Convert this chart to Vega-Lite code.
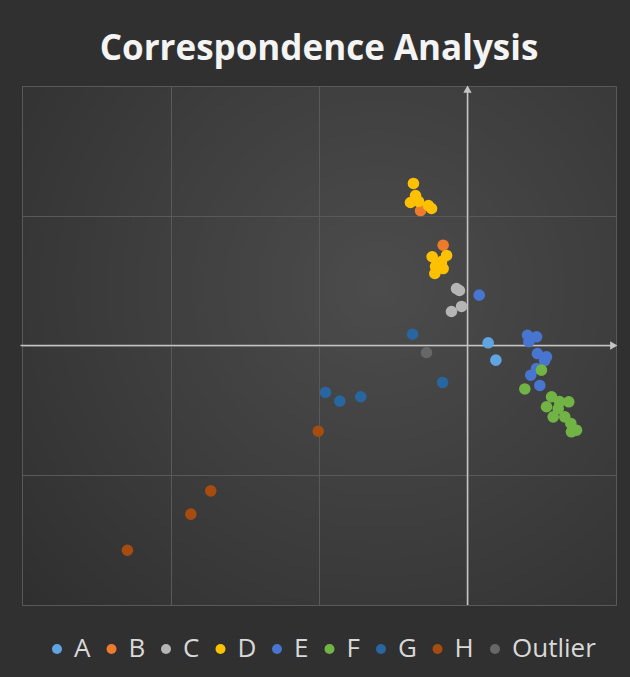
{
  "$schema": "https://vega.github.io/schema/vega-lite/v6.json",
  "width": 594,
  "height": 519,
  "autosize": {"type": "none"},
  "padding": {"left": 22, "top": 86, "right": 14, "bottom": 72},
  "background": "#303030",
  "title": {
    "text": "Correspondence Analysis",
    "font": "Open Sans",
    "fontSize": 35,
    "fontWeight": "bold",
    "color": "#f4f4f4",
    "anchor": "middle",
    "offset": 19
  },
  "config": {
    "view": {
      "stroke": "#585858",
      "strokeWidth": 1,
      "fill": {
        "gradient": "radial",
        "x1": 0.6, "y1": 0.4, "x2": 0.6, "y2": 0.4, "r1": 0, "r2": 0.8,
        "stops": [
          {"offset": 0, "color": "#4c4c4c"},
          {"offset": 1, "color": "#2f2f2f"}
        ]
      }
    },
    "axis": {
      "grid": true,
      "gridColor": "#595959",
      "gridWidth": 1,
      "labels": false,
      "ticks": false,
      "domain": false,
      "tickCount": 4
    }
  },
  "datasets": {
    "points": [
      {"group": "A", "x": 0.139, "y": 0.021},
      {"group": "A", "x": 0.191, "y": -0.113},
      {"group": "B", "x": -0.316, "y": 1.040},
      {"group": "B", "x": -0.164, "y": 0.773},
      {"group": "C", "x": -0.074, "y": 0.439},
      {"group": "C", "x": -0.054, "y": 0.424},
      {"group": "C", "x": -0.040, "y": 0.301},
      {"group": "C", "x": -0.108, "y": 0.262},
      {"group": "D", "x": -0.364, "y": 1.249},
      {"group": "D", "x": -0.350, "y": 1.156},
      {"group": "D", "x": -0.384, "y": 1.102},
      {"group": "D", "x": -0.330, "y": 1.110},
      {"group": "D", "x": -0.263, "y": 1.079},
      {"group": "D", "x": -0.242, "y": 1.056},
      {"group": "D", "x": -0.141, "y": 0.694},
      {"group": "D", "x": -0.238, "y": 0.684},
      {"group": "D", "x": -0.175, "y": 0.647},
      {"group": "D", "x": -0.215, "y": 0.609},
      {"group": "D", "x": -0.164, "y": 0.593},
      {"group": "D", "x": -0.220, "y": 0.555},
      {"group": "E", "x": 0.079, "y": 0.388},
      {"group": "E", "x": 0.404, "y": 0.079},
      {"group": "E", "x": 0.465, "y": 0.067},
      {"group": "E", "x": 0.413, "y": 0.029},
      {"group": "E", "x": 0.471, "y": -0.062},
      {"group": "E", "x": 0.532, "y": -0.087},
      {"group": "E", "x": 0.519, "y": -0.116},
      {"group": "E", "x": 0.465, "y": -0.177},
      {"group": "E", "x": 0.426, "y": -0.229},
      {"group": "E", "x": 0.487, "y": -0.308},
      {"group": "F", "x": 0.498, "y": -0.190},
      {"group": "F", "x": 0.386, "y": -0.335},
      {"group": "F", "x": 0.566, "y": -0.395},
      {"group": "F", "x": 0.682, "y": -0.434},
      {"group": "F", "x": 0.620, "y": -0.432},
      {"group": "F", "x": 0.532, "y": -0.472},
      {"group": "F", "x": 0.611, "y": -0.486},
      {"group": "F", "x": 0.577, "y": -0.550},
      {"group": "F", "x": 0.655, "y": -0.550},
      {"group": "F", "x": 0.696, "y": -0.601},
      {"group": "F", "x": 0.734, "y": -0.653},
      {"group": "F", "x": 0.700, "y": -0.665},
      {"group": "G", "x": -0.370, "y": 0.087},
      {"group": "G", "x": -0.168, "y": -0.285},
      {"group": "G", "x": -0.956, "y": -0.362},
      {"group": "G", "x": -0.860, "y": -0.429},
      {"group": "G", "x": -0.719, "y": -0.395},
      {"group": "H", "x": -1.005, "y": -0.661},
      {"group": "H", "x": -1.729, "y": -1.120},
      {"group": "H", "x": -1.863, "y": -1.300},
      {"group": "H", "x": -2.290, "y": -1.578},
      {"group": "Outlier", "x": -0.276, "y": -0.054}
    ],
    "axislines": [
      {"x": -3.01, "x2": 0.97, "y": 0, "y2": 0},
      {"x": 0, "x2": 0, "y": -2, "y2": 1.96}
    ],
    "arrowx": [{"x": 0.985, "y": 0}],
    "arrowy": [{"x": 0, "y": 1.975}]
  },
  "layer": [
    {
      "data": {"name": "axislines"},
      "mark": {"type": "rule", "color": "#c4c4c4", "strokeWidth": 1.5},
      "encoding": {
        "x": {"field": "x", "type": "quantitative", "title": null, "scale": {"domain": [-3, 1], "nice": false, "zero": false}},
        "x2": {"field": "x2"},
        "y": {"field": "y", "type": "quantitative", "title": null, "scale": {"domain": [-2, 2], "nice": false, "zero": false}},
        "y2": {"field": "y2"}
      }
    },
    {
      "data": {"name": "arrowx"},
      "mark": {"type": "point", "shape": "triangle-right", "filled": true, "color": "#c4c4c4", "size": 70, "opacity": 1},
      "encoding": {
        "x": {"field": "x", "type": "quantitative", "title": null},
        "y": {"field": "y", "type": "quantitative", "title": null}
      }
    },
    {
      "data": {"name": "arrowy"},
      "mark": {"type": "point", "shape": "triangle-up", "filled": true, "color": "#c4c4c4", "size": 70, "opacity": 1},
      "encoding": {
        "x": {"field": "x", "type": "quantitative", "title": null},
        "y": {"field": "y", "type": "quantitative", "title": null}
      }
    },
    {
      "data": {"name": "points"},
      "mark": {"type": "circle", "size": 135, "opacity": 1},
      "encoding": {
        "x": {"field": "x", "type": "quantitative", "title": null},
        "y": {"field": "y", "type": "quantitative", "title": null},
        "color": {
          "field": "group",
          "type": "nominal",
          "scale": {
            "domain": ["A", "B", "C", "D", "E", "F", "G", "H", "Outlier"],
            "range": ["#5FA5E2", "#EE7A2C", "#B5B5B5", "#FFC000", "#4775CF", "#72B346", "#28669F", "#A64C10", "#676767"]
          },
          "legend": {
            "title": null,
            "orient": "none",
            "legendX": 22,
            "legendY": 550,
            "direction": "horizontal",
            "gridAlign": "none",
            "symbolType": "circle",
            "symbolSize": 100,
            "symbolOpacity": 1,
            "symbolStrokeWidth": 0,
            "labelFont": "Open Sans",
            "labelFontSize": 26,
            "labelColor": "#d9d9d9",
            "labelOffset": 4,
            "columnPadding": 7.5
          }
        }
      }
    }
  ]
}
